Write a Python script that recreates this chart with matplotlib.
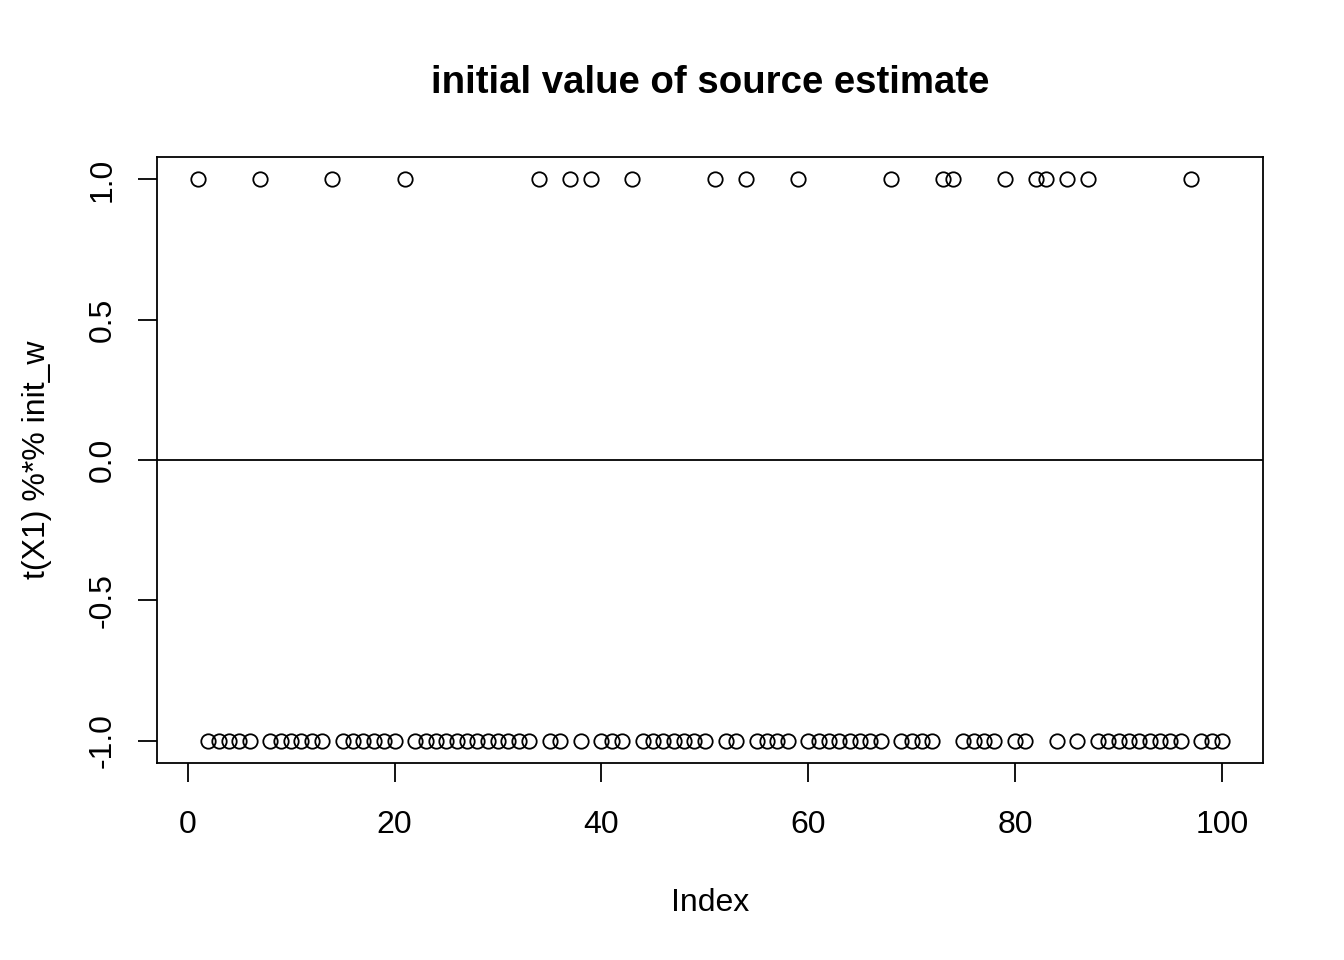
import matplotlib
matplotlib.use("Agg")
from matplotlib import pyplot as plt
import numpy as np

plt.rcParams["font.family"] = ["Liberation Sans", "DejaVu Sans"]

# indices whose source estimate starts at +1; all the others are -1
n_obs = 100
positive_idx = [1, 7, 14, 21, 34, 37, 39, 43, 51, 54, 59, 68, 73, 74, 79,
                82, 83, 85, 87, 97]
x_ticks = [0, 20, 40, 60, 80, 100]
y_ticks = [-1.0, -0.5, 0.0, 0.5, 1.0]

index = np.arange(1, n_obs + 1)
values = np.where(np.isin(index, positive_idx), 1.0, -1.0)

fig = plt.figure(figsize=(1344 / 144, 960 / 144), dpi=144)
ax = fig.add_axes([157 / 1344, 1 - 763 / 960, (1263 - 157) / 1344, (763 - 157) / 960])

ax.plot(index, values, linestyle="none", marker="o", markersize=7.2,
        markerfacecolor="none", markeredgecolor="black", markeredgewidth=0.9)
ax.axhline(0, color="black", linewidth=0.9)

ax.set_xlim(1 - 0.04 * 99, 100 + 0.04 * 99)
ax.set_ylim(-1.08, 1.08)
ax.set_xticks(x_ticks)
ax.set_yticks(y_ticks)
ax.set_xticklabels([str(t) for t in x_ticks])
ax.set_yticklabels(["{:.1f}".format(t) for t in y_ticks], rotation=90, va="center")
ax.tick_params(direction="out", length=9.5, width=0.9, labelsize=16, colors="black")
ax.tick_params(axis="x", pad=14)
ax.tick_params(axis="y", pad=10)
for s in ax.spines.values():
    s.set_linewidth(0.9)

ax.set_xlabel("Index", fontsize=16, labelpad=24)
ax.set_ylabel("t(X1) %*% init_w", fontsize=16, labelpad=18)
ax.set_title("initial value of source estimate", fontsize=19.2,
             fontweight="bold", pad=32)

fig.savefig("out.png", dpi=144)
